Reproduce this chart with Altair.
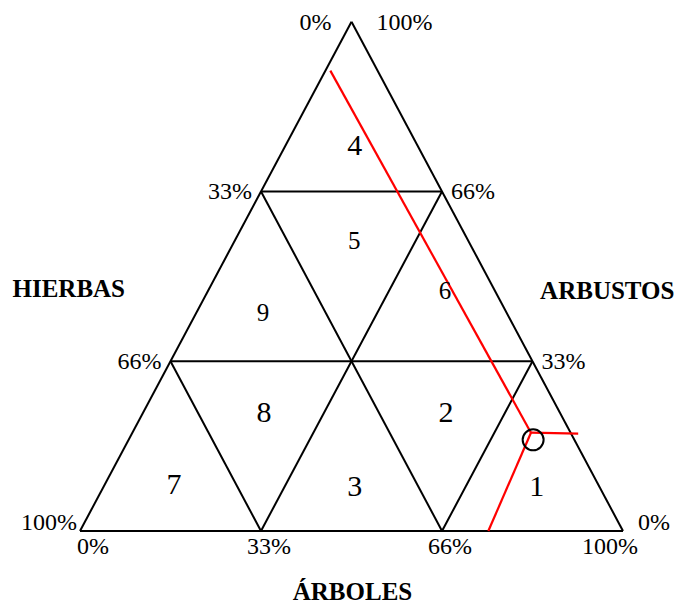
import altair as alt
import pandas as pd

# ---------------- data (ternary percentages) ----------------
grid_pct = [33.33, 66.67]                 # inner grid levels
tick_pos = [0, 33.33, 66.67, 100]         # tick positions on each side
tick_text = ["0%", "33%", "66%", "100%"]
titles = ["HIERBAS", "ARBUSTOS", "ÁRBOLES"]

region_ids = ["4", "5", "6", "9", "8", "2", "7", "3", "1"]
region_arboles = [12.8, 22.0, 43.6, 12.3, 22.3, 55.8, 12.8, 46.3, 79.8]
region_arbustos = [75.6, 57.0, 47.2, 42.8, 23.2, 23.2, 9.0, 8.6, 8.6]
region_big = [True, False, False, False, True, True, True, True, True]

# sample point (circle) and red reading lines
sample_arboles = [74.5]
sample_arbustos = [17.9]
red_start_arboles = 73.4
red_start_arbustos = 19.3
red_end_arboles = [0.9, 75.2, 82.2]
red_end_arbustos = [90.4, 0.0, 19.1]


def tx(a, b):
    """ternary (árboles %, arbustos %) -> cartesian x in triangle units"""
    return a / 100.0 + b / 200.0


def ty(a, b):
    return b / 100.0


# ---------------- layout ----------------
MARGIN = 8
W, H = 667, 595
PX_LEFT, PX_RIGHT = 80.0, 623.0
PX_TOP, PX_BOTTOM = 21.7, 531.0
sx = PX_RIGHT - PX_LEFT
sy = PX_BOTTOM - PX_TOP
x0 = -(PX_LEFT - MARGIN) / sx
x1 = x0 + W / sx
y1 = 1 + (PX_TOP - MARGIN) / sy
y0 = y1 - H / sy
xs = alt.Scale(domain=[x0, x1], nice=False, zero=False)
ys = alt.Scale(domain=[y0, y1], nice=False, zero=False)
FONT = "Liberation Serif"

# ---------------- segments ----------------
segs = [((0, 0), (100, 0)), ((0, 0), (0, 100)), ((100, 0), (0, 100))]
for p in grid_pct:
    segs.append(((0, p), (100 - p, p)))          # constant arbustos
    segs.append(((p, 0), (p, 100 - p)))          # constant árboles
    segs.append(((100 - p, 0), (0, 100 - p)))    # constant hierbas
seg_df = pd.DataFrame([
    {"x": tx(*s), "y": ty(*s), "x2": tx(*e), "y2": ty(*e)} for s, e in segs
])

red_df = pd.DataFrame([
    {"x": tx(red_start_arboles, red_start_arbustos),
     "y": ty(red_start_arboles, red_start_arbustos),
     "x2": tx(a, b), "y2": ty(a, b)}
    for a, b in zip(red_end_arboles, red_end_arbustos)
])

circ_df = pd.DataFrame({
    "x": [tx(a, b) for a, b in zip(sample_arboles, sample_arbustos)],
    "y": [ty(a, b) for a, b in zip(sample_arboles, sample_arbustos)],
})

reg_df = pd.DataFrame({
    "t": region_ids,
    "x": [tx(a, b) for a, b in zip(region_arboles, region_arbustos)],
    "y": [ty(a, b) for a, b in zip(region_arboles, region_arbustos)],
    "big": region_big,
})

# tick labels
rows = []
left_grp = ["C", "A", "A", "E"]
right_grp = ["F", "B", "B", "D"]
bottom_grp = ["G", "H", "H", "I"]
for i, (t, s) in enumerate(zip(tick_pos, tick_text)):
    rows.append({"t": s, "x": tx(0, 100 - t), "y": ty(0, 100 - t), "g": left_grp[i]})
    rows.append({"t": s, "x": tx(100 - t, t), "y": ty(100 - t, t), "g": right_grp[i]})
    rows.append({"t": s, "x": tx(t, 0), "y": ty(t, 0), "g": bottom_grp[i]})
tick_df = pd.DataFrame(rows)

styles = {
    "A": ("right", -9, 1), "B": ("left", 9, 1), "C": ("right", -20, 1),
    "D": ("left", 25, 1), "E": ("right", -3, -8), "F": ("left", 15, -8),
    "G": ("left", -3, 16), "H": ("center", 8, 16), "I": ("right", 15, 16),
}

title_df = pd.DataFrame({
    "t": titles,
    "x": [tx(0, 50), tx(50, 50), tx(50, 0)],
    "y": [ty(0, 50), ty(50, 50), ty(50, 0)],
})
title_off = [(-147, 13), (120, 15), (1, 61)]

# ---------------- layers ----------------
enc_seg = dict(
    x=alt.X("x:Q", scale=xs, axis=None), y=alt.Y("y:Q", scale=ys, axis=None),
    x2="x2:Q", y2="y2:Q",
)
lines = alt.Chart(seg_df).mark_rule(color="black", strokeWidth=2).encode(**enc_seg)
red = alt.Chart(red_df).mark_rule(color="#ff0000", strokeWidth=2.2).encode(**enc_seg)
circle = alt.Chart(circ_df).mark_point(
    shape="circle", filled=False, color="black", strokeWidth=2, size=440, opacity=1
).encode(x=alt.X("x:Q", scale=xs, axis=None), y=alt.Y("y:Q", scale=ys, axis=None))

layers = [lines, red, circle]

for big, fs in [(True, 30), (False, 25)]:
    layers.append(
        alt.Chart(reg_df[reg_df["big"] == big]).mark_text(
            font=FONT, fontSize=fs, color="black", align="center", baseline="middle"
        ).encode(x=alt.X("x:Q", scale=xs, axis=None), y=alt.Y("y:Q", scale=ys, axis=None), text="t:N")
    )

for g, (al, dx, dy) in styles.items():
    layers.append(
        alt.Chart(tick_df[tick_df["g"] == g]).mark_text(
            font=FONT, fontSize=24, color="black", align=al, baseline="middle", dx=dx, dy=dy
        ).encode(x=alt.X("x:Q", scale=xs, axis=None), y=alt.Y("y:Q", scale=ys, axis=None), text="t:N")
    )

for i, (dx, dy) in enumerate(title_off):
    layers.append(
        alt.Chart(title_df.iloc[[i]]).mark_text(
            font=FONT, fontSize=25, fontWeight="bold", color="black",
            align="center", baseline="middle", dx=dx, dy=dy
        ).encode(x=alt.X("x:Q", scale=xs, axis=None), y=alt.Y("y:Q", scale=ys, axis=None), text="t:N")
    )

chart = alt.layer(*layers).properties(
    width=W, height=H, padding=0, autosize=alt.AutoSizeParams(type="none")
).configure_view(strokeWidth=0)

chart.save("out.html", embed_options={"renderer": "svg", "actions": False})
